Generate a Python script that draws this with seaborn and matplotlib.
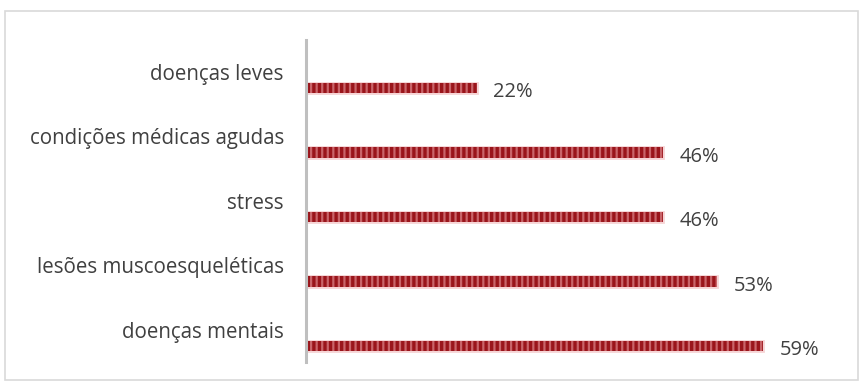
import matplotlib
matplotlib.use("Agg")
import matplotlib.pyplot as plt
import matplotlib.transforms as mtransforms
import matplotlib.patheffects as pe
from matplotlib.patches import Rectangle
import seaborn as sns
import pandas as pd

categories = ["doenças leves", "condições médicas agudas", "stress",
              "lesões muscoesqueléticas", "doenças mentais"]
values = [22, 46, 46, 53, 59]
value_labels = ["22%", "46%", "46%", "53%", "59%"]

DARK = "#9A151B"
LIGHT = "#C9656A"
GLOW = "#F6D4D5"
TEXT = "#404040"

sns.set_theme(style="white")
plt.rcParams["font.family"] = ["Open Sans", "DejaVu Sans"]
plt.rcParams["hatch.linewidth"] = 2.4
plt.rcParams["hatch.color"] = DARK

df = pd.DataFrame({"cat": categories, "val": values})

fig = plt.figure(figsize=(8.64, 3.86), dpi=100)
W, H = 864, 386
ax = fig.add_axes([306 / W, 1 - 362 / H, (840 - 306) / W, (362 - 40) / H])

sns.barplot(data=df, x="val", y="cat", orient="h", ax=ax, color=LIGHT,
            width=0.16, hatch="|||", edgecolor=DARK, linewidth=0)
for p in ax.patches:
    p.set_facecolor(LIGHT)
    p.set_hatch("|||")
    p.set_path_effects([pe.Stroke(linewidth=2.0, foreground=GLOW), pe.Normal()])

ax.set_xlim(0, (840 - 306) / 7.75)
ax.set_ylim(4.248, -0.744)
ax.set_xlabel("")
ax.set_ylabel("")
ax.set_xticks([])
for s in ["top", "right", "bottom"]:
    ax.spines[s].set_visible(False)
ax.spines["left"].set_color("#BFBFBF")
ax.spines["left"].set_linewidth(2.2)
ax.tick_params(axis="y", length=0, pad=16, labelsize=14.8, labelcolor=TEXT)

offset = mtransforms.ScaledTranslation(0, 16 / 100, fig.dpi_scale_trans)
for lab in ax.get_yticklabels():
    lab.set_transform(lab.get_transform() + offset)

anns = ax.bar_label(ax.containers[0], labels=value_labels, padding=12,
                    fontsize=14.5, color=TEXT)
for t in anns:
    x0, y0 = t.xyann
    t.xyann = (x0, y0 - 3.2)

fig.patches.append(Rectangle((5 / W, 1 - 380 / H), (858 - 5) / W, (380 - 11) / H,
                             transform=fig.transFigure, fill=False,
                             edgecolor="#D9D9D9", linewidth=1.2))

fig.savefig("out.png", dpi=100)
